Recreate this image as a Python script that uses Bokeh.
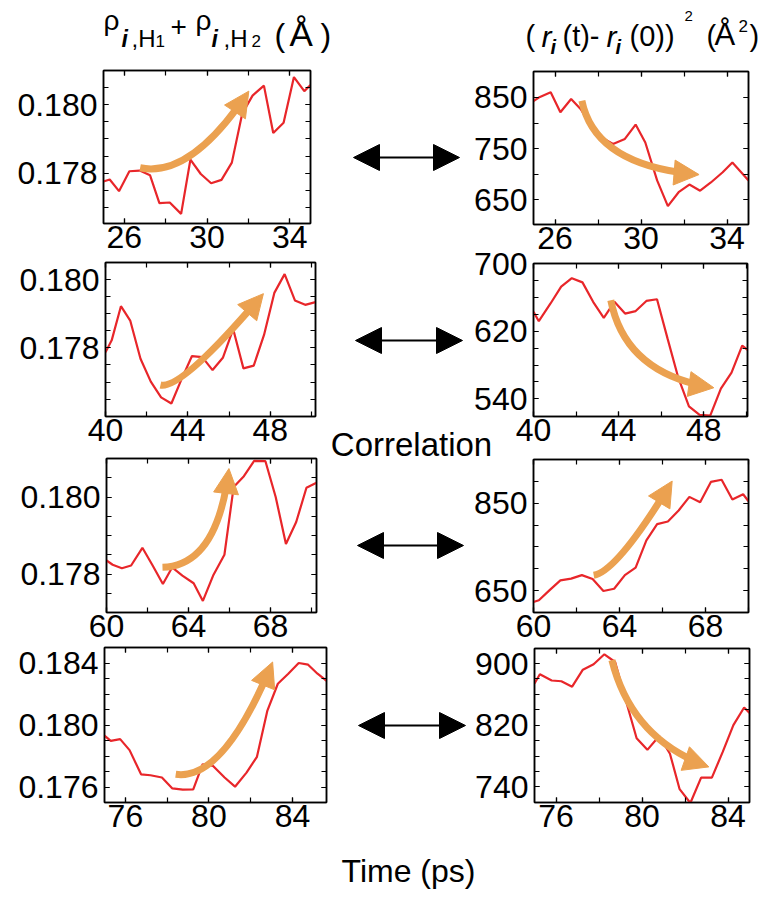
import numpy as np
from bokeh.plotting import figure
from bokeh.layouts import column
from bokeh.models import (Range1d, FixedTicker, PrintfTickFormatter, LinearAxis,
                          Arrow, NormalHead, GridBox, ColumnDataSource, CustomJSTickFormatter)
from bokeh.embed import file_html
from bokeh.resources import INLINE
from bokeh.core.properties import value

W, H = 763, 897
FONT = "Liberation Sans"
RED = "#E8262A"
ORANGE = "#EBA150"
TICK_SIZE = "32px"
BASE_SHIFT = 0.38   # empirical: bokeh places "alphabetic" text this fraction of the size too low

# ---------------- data ----------------
# Row 1
t1 = [25.0, 25.3, 25.75, 26.25, 26.75, 27.25, 27.7, 28.2, 28.75, 29.2, 29.7, 30.2, 30.7, 31.2, 31.7, 32.2, 32.75, 33.2, 33.7, 34.2, 34.7, 35.0]
rho1 = [0.17776, 0.17782, 0.17748, 0.17806, 0.17808, 0.17794, 0.17713, 0.17715, 0.17682, 0.17840, 0.17798, 0.17771, 0.17781, 0.17831, 0.17973, 0.18026, 0.18055, 0.17917, 0.17947, 0.18080, 0.18039, 0.18057]
t2 = [25.0, 25.3, 25.8, 26.25, 26.75, 27.2, 27.7, 28.2, 28.7, 29.25, 29.75, 30.2, 30.75, 31.25, 31.75, 32.25, 32.75, 33.25, 33.8, 34.25, 34.7, 35.0]
msd2 = [843, 851, 860, 821, 847, 827, 792, 771, 759, 769, 797, 762, 688, 638, 665, 680, 668, 684, 704, 723, 702, 688]
# Row 2
t3 = [40.0, 40.3, 40.75, 41.2, 41.7, 42.2, 42.7, 43.2, 43.7, 44.2, 44.7, 45.2, 45.7, 46.2, 46.7, 47.2, 47.7, 48.2, 48.7, 49.2, 49.7, 50.2]
rho3 = [0.17787, 0.17822, 0.17922, 0.17880, 0.17768, 0.17701, 0.17655, 0.17637, 0.17709, 0.17776, 0.17773, 0.17735, 0.17771, 0.17855, 0.17740, 0.17748, 0.17838, 0.17961, 0.18016, 0.17939, 0.17926, 0.17934]
t4 = [40.0, 40.25, 40.8, 41.3, 41.8, 42.3, 42.8, 43.3, 43.8, 44.3, 44.8, 45.3, 45.8, 46.3, 46.8, 47.3, 47.8, 48.3, 48.8, 49.3, 49.8, 50.05]
msd4 = [643, 632, 653, 673, 683, 678, 655, 636, 655, 641, 644, 656, 658, 611, 565, 531, 521, 520, 552, 571, 603, 598]
# Row 3
t5 = [60.0, 60.3, 60.75, 61.2, 61.75, 62.25, 62.75, 63.2, 63.7, 64.25, 64.7, 65.2, 65.75, 66.2, 66.7, 67.2, 67.75, 68.25, 68.75, 69.25, 69.75, 70.24]
rho5 = [0.17835, 0.17824, 0.17815, 0.17822, 0.17868, 0.17822, 0.17774, 0.17817, 0.17796, 0.17776, 0.17730, 0.17796, 0.17850, 0.18026, 0.18054, 0.18094, 0.18093, 0.18000, 0.17878, 0.17935, 0.18024, 0.18037]
t6 = [60.0, 60.25, 60.75, 61.25, 61.75, 62.25, 62.75, 63.25, 63.75, 64.25, 64.75, 65.25, 65.75, 66.25, 66.75, 67.25, 67.75, 68.25, 68.75, 69.25, 69.75, 70.0]
msd6 = [625, 629, 652, 674, 678, 686, 677, 650, 655, 686, 703, 765, 802, 808, 833, 864, 852, 898, 903, 858, 870, 854]
# Row 4
t7 = [75.0, 75.3, 75.75, 76.2, 76.75, 77.2, 77.75, 78.25, 78.75, 79.25, 79.7, 80.2, 80.75, 81.25, 81.8, 82.3, 82.8, 83.3, 83.8, 84.3, 84.75, 85.2, 85.65]
rho7 = [0.17931, 0.17898, 0.17909, 0.17838, 0.17682, 0.17676, 0.17661, 0.17591, 0.17583, 0.17585, 0.17747, 0.17736, 0.17661, 0.17602, 0.17693, 0.17795, 0.18093, 0.18266, 0.18331, 0.18400, 0.18389, 0.18331, 0.18283]
t8 = [75.0, 75.25, 75.8, 76.25, 76.75, 77.25, 77.75, 78.25, 78.75, 79.25, 79.75, 80.25, 80.8, 81.3, 81.75, 82.25, 82.75, 83.25, 83.75, 84.25, 84.75, 85.0]
msd8 = [874, 886, 878, 877, 870, 892, 899, 912, 902, 852, 803, 788, 806, 783, 737, 719, 752, 752, 785, 820, 843, 836]

# tick labels
xt1 = [26, 30, 34]; xm1 = [26, 28, 30, 32, 34]
xt2 = [40, 44, 48]; xm2 = [40, 42, 44, 46, 48, 50]
xt3 = [60, 64, 68]; xm3 = [60, 62, 64, 66, 68, 70]
xt4 = [76, 80, 84]; xm4 = [76, 78, 80, 82, 84]
yt_rho12 = [0.178, 0.180]
ym_rho12 = [0.1770, 0.1775, 0.1780, 0.1785, 0.1790, 0.1795, 0.1800, 0.1805]
ym_rho3 = [0.1765, 0.1770, 0.1775, 0.1780, 0.1785, 0.1790, 0.1795, 0.1800]
ym_rho5 = [0.1775, 0.1780, 0.1785, 0.1790, 0.1795, 0.1800, 0.1805]
yt_rho7 = [0.176, 0.180, 0.184]
ym_rho7 = [0.176, 0.177, 0.178, 0.179, 0.180, 0.181, 0.182, 0.183, 0.184]
yt_msd2 = [650, 750, 850]; ym_msd2 = [650, 700, 750, 800, 850, 900]
yt_msd4 = [540, 620, 700]; ym_msd4 = [540, 560, 580, 600, 620, 640, 660, 680, 700]
yt_msd6 = [650, 850]; ym_msd6 = [650, 700, 750, 800, 850, 900]
yt_msd8 = [740, 820, 900]; ym_msd8 = [740, 760, 780, 800, 820, 840, 860, 880, 900]

# orange trend arrows: start, control, end (quadratic curves, data units)
arr1 = [(26.77, 0.17816), (29.23, 0.17786), (32.02, 0.18039)]
arr2 = [(27.25, 843.5), (27.87, 716.0), (32.70, 699.4)]
arr3 = [(42.67, 0.176912), (43.69, 0.176767), (47.67, 0.179588)]
arr4 = [(43.63, 656.8), (44.32, 568.8), (48.47, 553.1)]
arr5 = [(62.73, 0.178174), (65.42, 0.178217), (65.97, 0.180739)]
arr6 = [(62.80, 685.6), (63.91, 695.1), (66.45, 900.0)]
arr7 = [(78.41, 0.176822), (80.71, 0.176378), (83.05, 0.184065)]
arr8 = [(78.60, 904.3), (79.53, 801.1), (83.11, 765.9)]

panels = [
    dict(t=t1, v=rho1, xr=(25, 35), yr=(0.17654, 0.18099), xt=xt1, xm=xm1, yt=yt_rho12, ym=ym_rho12, fmt="%.3f", frame=(103, 310, 70, 223), arrow=arr1),
    dict(t=t2, v=msd2, xr=(25, 35), yr=(602, 900.6), xt=xt1, xm=xm1, yt=yt_msd2, ym=ym_msd2, fmt="%d", frame=(533, 748, 71, 224), arrow=arr2),
    dict(t=t3, v=rho3, xr=(40, 50.2), yr=(0.17599, 0.18050), xt=xt2, xm=xm2, yt=yt_rho12, ym=ym_rho3, fmt="%.3f", frame=(105, 315, 262, 416), arrow=arr3),
    dict(t=t4, v=msd4, xr=(40, 50.05), yr=(519, 700.4), xt=xt2, xm=xm2, yt=yt_msd4, ym=ym_msd4, fmt="%d", frame=(533, 747, 263, 416), arrow=arr4),
    dict(t=t5, v=rho5, xr=(60, 70.24), yr=(0.177, 0.181), xt=xt3, xm=xm3, yt=yt_rho12, ym=ym_rho5, fmt="%.3f", frame=(106, 316, 458, 612), arrow=arr5),
    dict(t=t6, v=msd6, xr=(60, 70), yr=(601, 949), xt=xt3, xm=xm3, yt=yt_msd6, ym=ym_msd6, fmt="%d", frame=(533, 748, 459, 612), arrow=arr6),
    dict(t=t7, v=rho7, xr=(75, 85.63), yr=(0.175, 0.185), xt=xt4, xm=xm4, yt=yt_rho7, ym=ym_rho7, fmt="%.3f", frame=(104, 326, 647, 802), arrow=arr7),
    dict(t=t8, v=msd8, xr=(75, 85), yr=(719.7, 919.5), xt=xt4, xm=xm4, yt=yt_msd8, ym=ym_msd8, fmt="%d", frame=(534, 749, 648, 802), arrow=arr8),
]

# texts in page pixels (x left, baseline y, size in px)
title_text = ["ρ", "i", ",H", "1", "+", "ρ", "i", ",H", "2", "(", "Å", ")",
              "(", "r", "i", "(t)-", "r", "i", "(0))", "2", "(", "Å", "2", ")"]
title_x = [103, 121, 131, 155, 170, 195, 211, 223, 251, 274, 289, 320,
           525, 541, 550, 562, 606, 615, 629, 684, 706, 714, 738, 749]
title_y = [31, 47, 47, 47, 37, 31, 47, 47, 47, 47, 46, 47,
           47, 47, 54, 47, 47, 54, 47, 21, 47, 46, 32, 47]
title_size = [28, 23, 24, 17, 28, 28, 23, 24, 17, 32, 35, 32,
              29, 30, 20, 29, 30, 20, 29, 15, 29, 31, 17, 29]
title_style = ["normal", "bold italic", "normal", "normal", "normal", "normal", "bold italic", "normal", "normal", "normal", "normal", "normal",
               "normal", "italic", "bold italic", "normal", "italic", "bold italic", "normal", "normal", "normal", "normal", "normal", "normal"]

mid_label = ["Correlation"]; mid_x = [411]; mid_y = [457]; mid_size = 33
xlabel = ["Time (ps)"]; xlabel_x = [408]; xlabel_y = [883]; xlabel_size = 32

# double-headed black arrows (page pixels)
dbl_x0 = [353, 355, 357, 358]
dbl_x1 = [459, 462, 463, 465]
dbl_y = [157, 340, 545, 725]

# ---------------- background figure ----------------
bg = figure(width=W, height=H, output_backend="svg", toolbar_location=None,
            x_range=Range1d(0, W), y_range=Range1d(H, 0), min_border=0,
            x_axis_location=None, y_axis_location=None,
            outline_line_color=None, background_fill_color="white", border_fill_color="white")
bg.xgrid.visible = False
bg.ygrid.visible = False

tsrc = ColumnDataSource(dict(
    x=title_x,
    y=[yy - BASE_SHIFT * s for yy, s in zip(title_y, title_size)],
    text=title_text,
    size=["%dpx" % s for s in title_size],
    style=title_style))
bg.text(x="x", y="y", text="text", source=tsrc, text_font=value(FONT), text_font_size="size",
        text_font_style="style", text_align="left", text_baseline="alphabetic", text_color="black")
bg.text(x=mid_x, y=[yy - BASE_SHIFT * mid_size for yy in mid_y], text=mid_label, text_font=value(FONT),
        text_font_size="%dpx" % mid_size, text_align="center", text_baseline="alphabetic", text_color="black")
bg.text(x=xlabel_x, y=[yy - BASE_SHIFT * xlabel_size for yy in xlabel_y], text=xlabel, text_font=value(FONT),
        text_font_size="%dpx" % xlabel_size, text_align="center", text_baseline="alphabetic", text_color="black")
for x0, x1, yy in zip(dbl_x0, dbl_x1, dbl_y):
    bg.add_layout(Arrow(x_start=x0, y_start=yy, x_end=x1, y_end=yy, line_width=2.2, line_color="black",
                        start=NormalHead(size=26, fill_color="black", line_color="black"),
                        end=NormalHead(size=26, fill_color="black", line_color="black")))


def style_axis(ax, ticks, minor, fmt, show):
    ax.ticker = FixedTicker(ticks=ticks, minor_ticks=minor)
    ax.major_tick_in = 5
    ax.major_tick_out = 0
    ax.minor_tick_in = 5
    ax.minor_tick_out = 0
    ax.major_tick_line_color = "black"
    ax.minor_tick_line_color = "black"
    ax.major_tick_line_width = 1.2
    ax.minor_tick_line_width = 1.2
    ax.axis_line_color = "black"
    ax.axis_line_width = 1.5
    if show:
        ax.formatter = PrintfTickFormatter(format=fmt)
        ax.major_label_text_font = FONT
        ax.major_label_text_font_size = TICK_SIZE
        ax.major_label_text_color = "black"
    else:
        ax.formatter = CustomJSTickFormatter(code="return ''")
        ax.major_label_text_font_size = "1px"


def bez_sub(a, tau):
    (sx, sy), (cx, cy), (ex, ey) = a
    c1 = (sx + tau * (cx - sx), sy + tau * (cy - sy))
    bx = (1 - tau) ** 2 * sx + 2 * (1 - tau) * tau * cx + tau ** 2 * ex
    by = (1 - tau) ** 2 * sy + 2 * (1 - tau) * tau * cy + tau ** 2 * ey
    return (sx, sy), c1, (bx, by)


figs = [bg]
for cfg in panels:
    L, R, T, B = cfg["frame"]
    p = figure(width=W, height=H, output_backend="svg", toolbar_location=None,
               x_range=Range1d(*cfg["xr"]), y_range=Range1d(*cfg["yr"]),
               min_border_left=L, min_border_right=W - R, min_border_top=T, min_border_bottom=H - B,
               border_fill_color=None, background_fill_color=None,
               outline_line_color="black", outline_line_width=1.5)
    p.xgrid.visible = False
    p.ygrid.visible = False
    style_axis(p.xaxis[0], cfg["xt"], cfg["xm"], "%d", True)
    p.xaxis[0].major_label_standoff = 2
    style_axis(p.yaxis[0], cfg["yt"], cfg["ym"], cfg["fmt"], True)
    p.yaxis[0].major_label_standoff = 6
    top = LinearAxis()
    style_axis(top, cfg["xt"], cfg["xm"], "%d", False)
    p.add_layout(top, "above")
    right = LinearAxis()
    style_axis(right, cfg["yt"], cfg["ym"], cfg["fmt"], False)
    p.add_layout(right, "right")

    p.line(cfg["t"], cfg["v"], line_color=RED, line_width=2.2)

    s, c, e = cfg["arrow"]
    (s0, c0, e0) = bez_sub(cfg["arrow"], 0.9)
    p.quadratic(x0=[s0[0]], y0=[s0[1]], x1=[e0[0]], y1=[e0[1]], cx=[c0[0]], cy=[c0[1]],
                line_color=ORANGE, line_width=7)
    p.add_layout(Arrow(x_start=c[0], y_start=c[1], x_end=e[0], y_end=e[1], line_alpha=0, line_width=0,
                       end=NormalHead(size=25, fill_color=ORANGE, line_color=ORANGE, line_width=1)))
    figs.append(p)

layout = GridBox(children=[(column(f), 0, 0) for f in figs])
open("out.html", "w").write(file_html(layout, INLINE))
